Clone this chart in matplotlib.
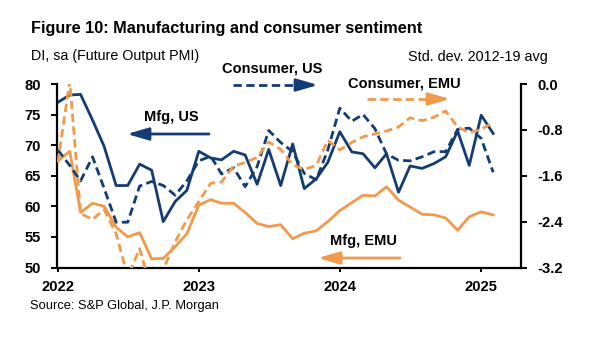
import matplotlib
matplotlib.use("Agg")
import matplotlib.pyplot as plt
from matplotlib import font_manager
import pandas as pd

# narrow Arial-style face if the system has it, otherwise regular width
installed = {f.name for f in font_manager.fontManager.ttflist}
NARROW = 'Liberation Sans Narrow' in installed
plt.rcParams['font.family'] = (['Liberation Sans Narrow'] if NARROW else ['Liberation Sans']) + ['DejaVu Sans']
plt.rcParams['axes.unicode_minus'] = False
W = 1.0 if NARROW else 0.82   # font size scale for the regular-width fallback

NAVY = '#143c74'
ORANGE = '#f19a4c'

# monthly data, Jan 2022 - Feb 2025
months = pd.date_range('2022-01-01', periods=38, freq='MS')

# left axis: PMI future output, diffusion index
mfg_us = [77.0, 78.2, 78.3, 74.1, 69.8, 63.4, 63.4, 66.9, 65.9, 57.5,
          60.8, 62.6, 69.0, 67.9, 67.6, 69.0, 68.4, 63.6, 69.3, 63.4,
          70.2, 62.9, 64.5, 67.2, 72.2, 68.9, 68.6, 66.3, 68.6, 62.3,
          66.6, 66.2, 67.0, 68.1, 72.3, 66.7, 74.9, 71.9]
mfg_emu = [67.4, 69.0, 59.0, 60.5, 60.0, 56.6, 55.0, 55.7, 51.4, 51.5,
           53.4, 55.5, 60.2, 61.1, 60.5, 60.5, 59.0, 57.2, 56.7, 57.0,
           54.7, 55.6, 56.0, 57.5, 59.3, 60.6, 61.8, 61.7, 63.2, 61.0,
           59.9, 58.7, 58.6, 58.1, 56.1, 58.3, 59.1, 58.6]

# right axis: consumer confidence, std. dev. from 2012-19 average
cons_us = [-1.15, -1.42, -1.69, -1.27, -1.82, -2.41, -2.41, -1.78, -1.70, -1.77,
           -1.94, -1.69, -1.34, -1.26, -1.57, -1.46, -1.79, -1.44, -0.81, -1.02,
           -1.18, -1.56, -1.67, -1.15, -0.42, -0.65, -0.53, -0.78, -1.22, -1.33,
           -1.34, -1.27, -1.18, -1.18, -0.79, -0.77, -0.95, -1.54]
cons_emu = [-1.37, 0.05, -2.26, -2.36, -2.19, -2.61, -3.36, -2.87, -3.63, -3.24,
            -2.75, -2.37, -2.05, -1.73, -1.71, -1.43, -1.37, -1.28, -1.01, -1.14,
            -1.41, -1.49, -1.42, -0.98, -1.15, -1.02, -0.92, -0.87, -0.82, -0.75,
            -0.59, -0.64, -0.58, -0.47, -0.75, -0.85, -0.79, -0.67]

left_ticks = [50, 55, 60, 65, 70, 75, 80]
right_ticks = [-3.2, -2.4, -1.6, -0.8, 0.0]
year_ticks = ['2022', '2023', '2024', '2025']

LW = 2.0
DASH = (3.0, 1.6)


def draw_arrow(ax, x_tail, x_tip, y, color, dashed=False):
    """Horizontal arrow in axes-fraction coords, optional dashed shaft."""
    head = 0.038
    sign = 1 if x_tip > x_tail else -1
    if dashed:
        ax.plot([x_tail, x_tip - head * sign], [y, y],
                transform=ax.transAxes, color=color, lw=LW,
                dashes=DASH, clip_on=False)
        start = x_tip - head * 1.05 * sign
    else:
        start = x_tail
    ax.annotate('', xy=(x_tip, y), xytext=(start, y),
                xycoords='axes fraction', textcoords='axes fraction',
                annotation_clip=False,
                arrowprops=dict(arrowstyle='-|>,head_length=1.3,head_width=0.38',
                                mutation_scale=10, color=color, lw=LW,
                                shrinkA=0, shrinkB=0))


fig = plt.figure(figsize=(6, 3.39), dpi=100)
L, R, T, B = 57, 521, 84, 267.5
ax = fig.add_axes([L / 600, 1 - B / 339, (R - L) / 600, (B - T) / 339])
ax2 = ax.twinx()

def fx(px):
    return (px - L) / (R - L)

def fy(py):
    return (B - py) / (B - T)

ax.plot(months, mfg_us, color=NAVY, lw=LW)
ax.plot(months, mfg_emu, color=ORANGE, lw=LW)
ax2.plot(months, cons_us, color=NAVY, lw=LW, dashes=DASH)
ax2.plot(months, cons_emu, color=ORANGE, lw=LW, dashes=DASH)

ax.set_ylim(50, 80)
ax.set_yticks(left_ticks)
ax2.set_ylim(-3.2, 0.0)
ax2.set_yticks(right_ticks)
ax2.set_yticklabels([f'{t:.1f}' for t in right_ticks])

ax.set_xlim(pd.Timestamp('2021-12-30'), pd.Timestamp('2025-04-14'))
ax.set_xticks([pd.Timestamp(f'{y}-01-01') for y in year_ticks])
ax.set_xticklabels(year_ticks)

for a in (ax, ax2):
    a.spines['top'].set_visible(False)
    for s in a.spines.values():
        s.set_linewidth(1.6)
        s.set_color('black')
ax.spines['right'].set_visible(False)
ax2.spines['left'].set_visible(False)
ax2.spines['bottom'].set_visible(False)

TICK_FS = 13 * W
ax.tick_params(axis='y', direction='out', length=4, width=1.4, pad=7.5,
               labelsize=TICK_FS)
ax.tick_params(axis='x', direction='out', length=3, width=1.4, pad=6,
               labelsize=TICK_FS)
ax2.tick_params(axis='y', direction='out', length=4.5, width=1.4, pad=7.5,
                labelsize=TICK_FS)
for lab in ax.get_xticklabels() + ax.get_yticklabels() + ax2.get_yticklabels():
    lab.set_fontweight('bold')

# series labels with arrows pointing to their axis
LAB_FS = 12.8 * W
ax.text(fx(171.5), fy(117), 'Mfg, US', transform=ax.transAxes, ha='center',
        va='center', fontsize=LAB_FS, fontweight='bold')
draw_arrow(ax, fx(209), fx(127), fy(134), NAVY)
ax.text(fx(363), fy(241), 'Mfg, EMU', transform=ax.transAxes, ha='center',
        va='center', fontsize=LAB_FS, fontweight='bold')
draw_arrow(ax, fx(400), fx(318), fy(258), ORANGE)
ax.text(fx(272.5), fy(68.3), 'Consumer, US', transform=ax.transAxes, ha='center',
        va='center', fontsize=LAB_FS, fontweight='bold')
draw_arrow(ax, fx(233), fx(318), fy(85), NAVY, dashed=True)
ax.text(fx(404.5), fy(83.3), 'Consumer, EMU', transform=ax.transAxes, ha='center',
        va='center', fontsize=LAB_FS, fontweight='bold')
draw_arrow(ax, fx(367), fx(450), fy(99), ORANGE, dashed=True)

fig.text(31 / 600, 1 - 29 / 339, 'Figure 10: Manufacturing and consumer sentiment',
         ha='left', va='center', fontsize=14.3 * W, fontweight='bold')
fig.text(31 / 600, 1 - 56 / 339, 'DI, sa (Future Output PMI)',
         ha='left', va='center', fontsize=12.5 * W)
fig.text(548 / 600, 1 - 56.5 / 339, 'Std. dev. 2012-19 avg',
         ha='right', va='center', fontsize=12.6 * W)
fig.text(30 / 600, 1 - 305.5 / 339, 'Source: S&P Global, J.P. Morgan',
         ha='left', va='center', fontsize=11.3 * W)

fig.savefig('out.png', dpi=100)
